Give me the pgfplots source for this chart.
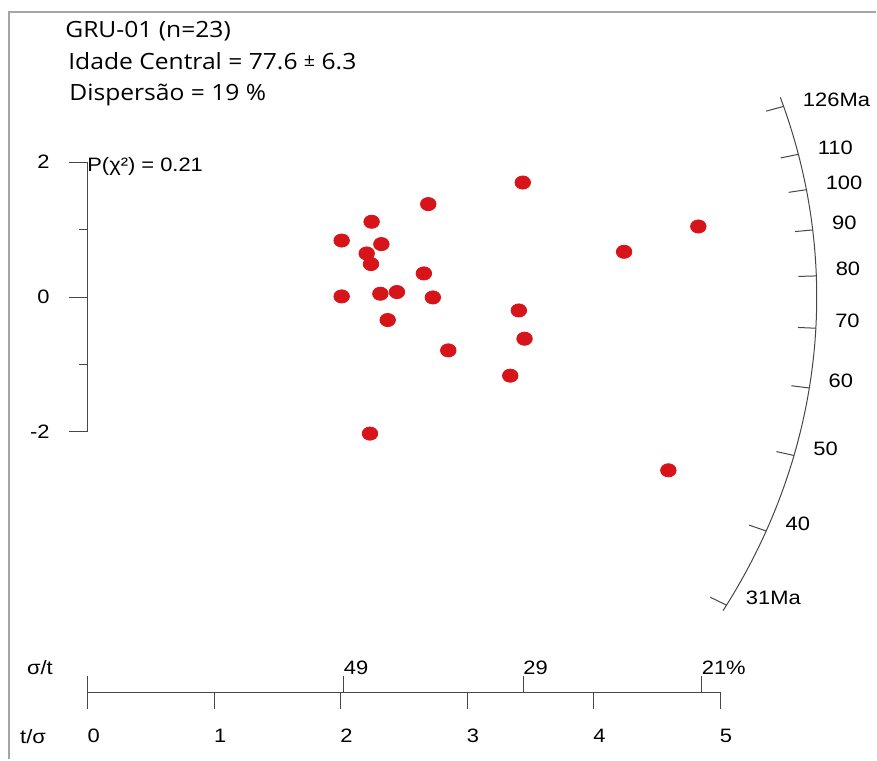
\documentclass[border=0pt]{standalone}
\usepackage{pgfplots}
\pgfplotsset{compat=1.18}
\usepackage{pgfplotstable}
\usepackage{fontspec}
\setmainfont{Liberation Sans}
\newfontfamily\hdrfont{Open Sans}

\definecolor{dotred}{RGB}{214,20,26}
\definecolor{axgray}{RGB}{70,70,70}
\definecolor{framegray}{RGB}{165,165,165}

% grains: x = t/sigma, y = standardised estimate
\pgfplotstableread{
x y
3.438 1.698
2.691 1.378
2.243 1.116
2.006 0.838
2.320 0.785
2.204 0.646
2.238 0.489
2.656 0.350
2.006 0.009
2.312 0.049
2.443 0.074
2.727 -0.006
2.370 -0.341
3.407 -0.199
3.452 -0.618
2.849 -0.791
3.339 -1.166
2.230 -2.025
4.826 1.046
4.239 0.671
4.589 -2.569
}\grains

\begin{document}
\begin{tikzpicture}[
  lbl/.style={font=\fontsize{9.7}{11}\selectfont, xscale=1.13, inner sep=0pt},
  hdr/.style={font=\hdrfont\fontsize{11.2}{13}\selectfont, xscale=1.1, inner sep=0pt, anchor=base west}]
\begin{axis}[
  scale only axis, width=438.5pt, height=380pt,
  xmin=-0.6951, xmax=6.2322, ymin=-6.8548, ymax=4.4044,
  hide axis, clip=false]
\path (rel axis cs:0,0) rectangle (rel axis cs:1,1);

% frame of the screenshot
\draw[framegray, line width=0.8pt] (rel axis cs:0.0103,0) -- (rel axis cs:0.0103,0.9842) -- (rel axis cs:1,0.9842);

% header
\node[hdr] at (axis cs:-0.182,3.849) {GRU-01 (n=23)};
\node[hdr] at (axis cs:-0.158,3.367) {Idade Central = 77.6 \raisebox{0.25ex}{\fontsize{9}{10}\selectfont ±} 6.3};
\node[hdr] at (axis cs:-0.150,2.908) {Dispersão = 19 \%};
\node[lbl, anchor=base west] at (axis cs:-0.008,1.856) {P(χ²) = 0.21};

% standardised estimate axis
\draw[axgray, line width=0.5pt] (axis cs:0,-2) -- (axis cs:0,2);
\draw[axgray, line width=0.5pt] (axis cs:-0.15,2) -- (axis cs:0,2);
\draw[axgray, line width=0.5pt] (axis cs:-0.071,1) -- (axis cs:0,1);
\draw[axgray, line width=0.5pt] (axis cs:-0.15,0) -- (axis cs:0,0);
\draw[axgray, line width=0.5pt] (axis cs:-0.071,-1) -- (axis cs:0,-1);
\draw[axgray, line width=0.5pt] (axis cs:-0.15,-2) -- (axis cs:0,-2);
\node[lbl, anchor=east] at (axis cs:-0.30,2) {2};
\node[lbl, anchor=east] at (axis cs:-0.30,0) {0};
\node[lbl, anchor=east] at (axis cs:-0.30,-2) {-2};

% precision axis
\draw[axgray, line width=0.5pt] (axis cs:0,-5.858) -- (axis cs:5,-5.858);
\foreach \v in {0,1,2,3,4,5}{
  \edef\tmp{\noexpand\draw[axgray, line width=0.5pt] (axis cs:\v,-5.858) -- (axis cs:\v,-6.110);
    \noexpand\node[lbl] at (axis cs:\v+0.045,-6.511) {\v};}
  \tmp
}
\foreach \v/\lab in {0/{}, 2.02/49, 3.44/29, 4.85/21\%}{
  \edef\tmp{\noexpand\draw[axgray, line width=0.5pt] (axis cs:\v,-5.858) -- (axis cs:\v,-5.621);
    \noexpand\node[lbl, anchor=base west] at (axis cs:\v,-5.595) {\lab};}
  \tmp
}
\node[lbl] at (axis cs:-0.379,-5.492) {σ/t};
\node[lbl] at (axis cs:-0.434,-6.511) {t/σ};

% radial age scale
\draw[axgray, line width=0.5pt] (axis cs:0,0) ++(18.2:364.75pt and 320pt)
  arc[start angle=18.2, end angle=-29.37, x radius=364.75pt, y radius=320pt];
\foreach \t/\lab in {126/126Ma,110/110,100/100,90/90,80/80,70/70,60/60,50/50,40/40,31/31Ma}{
  \pgfmathsetmacro\m{0.5395*ln(\t/77.6)+0.0126}
  \pgfmathsetmacro\q{sqrt(1+(1.1398*\m)^2)}
  \pgfmathsetmacro\X{5.762/\q}
  \pgfmathsetmacro\Y{10.807*\m/\q}
  \pgfmathsetmacro\rr{729.5*sqrt(1+\m*\m)/\q}
  \pgfmathsetmacro\ff{1-18/\rr}
  \pgfmathsetmacro\Xi{\ff*\X}
  \pgfmathsetmacro\Yi{\ff*\Y}
  \edef\tmp{\noexpand\draw[axgray, line width=0.5pt] (axis cs:\X,\Y) -- (axis cs:\Xi,\Yi);
    \noexpand\node[xshift=9.5pt, yshift=3.5pt, lbl, anchor=west] at (axis cs:\X,\Y) {\lab};}
  \tmp
}

\addplot[only marks, color=dotred, mark=*, mark size=3.3pt,
  mark options={draw=none, fill=dotred, xscale=1.18}] table {\grains};
\end{axis}
\end{tikzpicture}
\end{document}
